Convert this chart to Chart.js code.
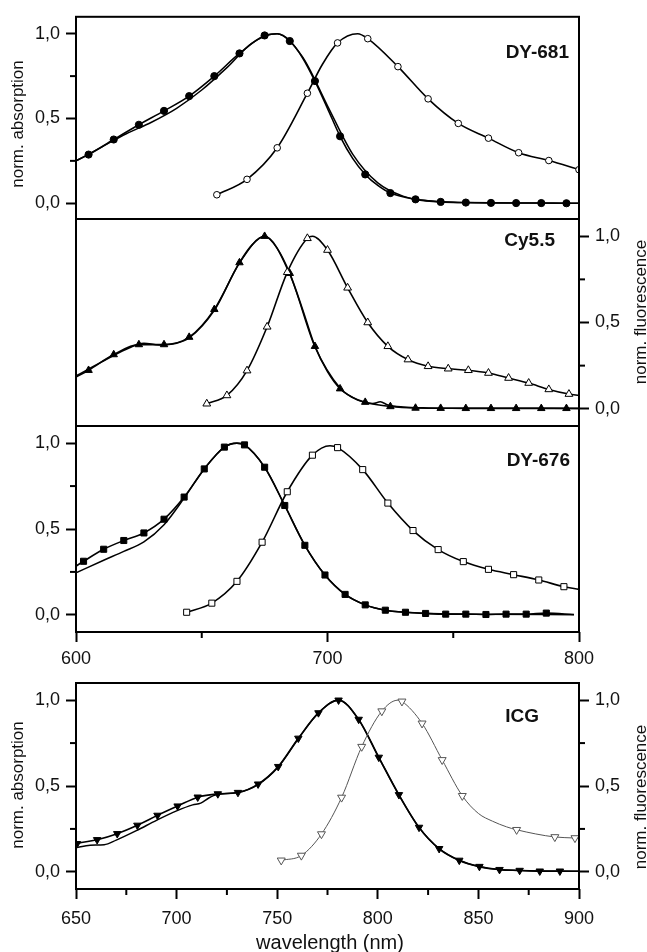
<!DOCTYPE html>
<html><head><meta charset="utf-8">
<script src="https://cdn.jsdelivr.net/npm/chart.js@4.4.0/dist/chart.umd.min.js"></script>
<style>
html,body{margin:0;padding:0;background:#fff;}
#wrap{position:relative;width:647px;height:952px;overflow:hidden;background:#fff;}
canvas{position:absolute;left:0;top:0;}
</style></head><body>
<div id="wrap">
<canvas id="c1" width="647" height="952"></canvas>
<canvas id="c2" width="647" height="952"></canvas>
<canvas id="c3" width="647" height="952"></canvas>
<canvas id="c4" width="647" height="952"></canvas>
</div>
<script>
// ---------- DATA ----------
const panelNames = ['DY-681', 'Cy5.5', 'DY-676', 'ICG'];
const yTitleAbs = 'norm. absorption';
const yTitleFlu = 'norm. fluorescence';
const xTitle = 'wavelength (nm)';
const xRangeTop = [600, 800];
const xRangeIcg = [650, 900];

// DY-681
const dy681AbsWl = [600,605,615,625,635,645,655,665,675,680,685,690,695,700,705,710,715,720,725,735,745,755,765,775,785,795,800];
const dy681AbsVal = [0.25,0.287,0.376,0.463,0.545,0.632,0.75,0.884,0.99,1.0,0.957,0.86,0.721,0.56,0.395,0.265,0.17,0.105,0.06,0.023,0.008,0.004,0.002,0.001,0.001,0,0];
const dy681AbsMarks = [605,615,625,635,645,655,665,675,685,695,705,715,725,735,745,755,765,775,785,795];
const dy681RefWl = [600,610,620,630,640,650,660,670,680,690,700,710,720,730,740,750,760,780,800];
const dy681RefVal = [0.25,0.33,0.41,0.478,0.56,0.668,0.80,0.945,1.0,0.865,0.575,0.29,0.12,0.042,0.014,0.006,0.003,0.001,0];
const dy681FluWl = [656,668,680,692,698,704,712,716,728,740,752,764,776,788,800];
const dy681FluVal = [0.05,0.141,0.327,0.649,0.82,0.946,1.0,0.971,0.806,0.616,0.471,0.384,0.298,0.252,0.198];
const dy681FluMarks = [656,668,680,692,704,716,728,740,752,764,776,788,800];

// Cy5.5
const cy55AbsWl = [600,605,615,625,635,645,655,665,670,675,680,685,690,695,700,705,710,715,725,735,745,755,765,775,785,795,800];
const cy55AbsVal = [0.184,0.223,0.314,0.372,0.372,0.415,0.576,0.847,0.95,1.0,0.93,0.785,0.58,0.362,0.215,0.116,0.066,0.038,0.013,0.004,0.003,0.002,0.002,0.002,0.002,0.002,0.002];
const cy55AbsMarks = [605,615,625,635,645,655,665,675,685,695,705,715,725,735,745,755,765,775,785,795];
const cy55RefWl = [600,610,620,627,633,640,645,655,665,675,685,695,705,712,718,721,724,730,740,760,800];
const cy55RefVal = [0.19,0.27,0.345,0.38,0.37,0.38,0.41,0.57,0.845,1.0,0.78,0.36,0.12,0.05,0.03,0.04,0.022,0.01,0.005,0.003,0.002];
const cy55FluWl = [652,660,668,676,684,692,694,700,708,716,724,732,740,748,756,764,772,780,788,796,800];
const cy55FluVal = [0.029,0.077,0.221,0.475,0.791,0.988,1.0,0.92,0.701,0.5,0.362,0.285,0.246,0.232,0.223,0.207,0.178,0.149,0.112,0.085,0.077];
const cy55FluMarks = [652,660,668,676,684,692,700,708,716,724,732,740,748,756,764,772,780,788,796];

// DY-676
const dy676AbsWl = [600,603,611,619,627,635,643,651,659,664,667,675,683,691,699,707,715,723,731,739,747,755,763,771,779,787,798];
const dy676AbsVal = [0.284,0.312,0.382,0.433,0.477,0.557,0.686,0.85,0.977,1.0,0.99,0.86,0.637,0.405,0.232,0.119,0.058,0.027,0.015,0.008,0.004,0.004,0.002,0.004,0.004,0.01,0.002];
const dy676AbsMarks = [603,611,619,627,635,643,651,659,667,675,683,691,699,707,715,723,731,739,747,755,763,771,779,787];
const dy676RefWl = [600,611,619,627,635,643,651,659,664,667,675,683,691,699,707,715,723,731,745,760,798];
const dy676RefVal = [0.245,0.318,0.37,0.425,0.525,0.68,0.85,0.977,1.0,0.99,0.86,0.637,0.405,0.232,0.119,0.058,0.027,0.015,0.006,0.003,0.001];
const dy676FluWl = [644,654,664,674,684,694,701,704,714,724,734,744,754,764,774,784,794,800];
const dy676FluVal = [0.015,0.068,0.195,0.423,0.717,0.93,0.985,0.974,0.846,0.651,0.491,0.38,0.31,0.265,0.234,0.203,0.164,0.148];
const dy676FluMarks = [644,654,664,674,684,694,704,714,724,734,744,754,764,774,784,794];

// ICG
const icgAbsWl = [650,650.5,660.5,670.5,680.5,690.5,700.5,710.5,720.5,730.5,740.5,750.5,760.5,770.5,780.5,790.5,800.5,810.5,820.5,830.5,840.5,850.5,860.5,870.5,880.5,890.5,900];
const icgAbsVal = [0.162,0.164,0.187,0.222,0.271,0.329,0.383,0.435,0.454,0.462,0.511,0.613,0.778,0.926,1.0,0.888,0.667,0.449,0.259,0.135,0.067,0.031,0.013,0.008,0.004,0.004,0.003];
const icgAbsMarks = [650.5,660.5,670.5,680.5,690.5,700.5,710.5,720.5,730.5,740.5,750.5,760.5,770.5,780.5,790.5,800.5,810.5,820.5,830.5,840.5,850.5,860.5,870.5,880.5,890.5];
const icgRefWl = [650,657,664,670,680,690,700,708,712,716,720,730.5,740.5,750.5,760.5,770.5,780.5,790.5,800.5,810.5,820.5,830.5,840.5,850.5,860.5,880,900];
const icgRefVal = [0.14,0.155,0.158,0.185,0.24,0.30,0.355,0.39,0.40,0.43,0.45,0.462,0.508,0.61,0.775,0.925,1.0,0.885,0.665,0.447,0.258,0.134,0.066,0.03,0.013,0.005,0.003];
const icgFluWl = [752,762,772,782,792,802,810,812,822,832,842,850,857,864,869,888,898,900];
const icgFluVal = [0.067,0.095,0.22,0.433,0.729,0.936,1.0,0.993,0.865,0.652,0.443,0.34,0.295,0.262,0.245,0.203,0.197,0.195];
const icgFluMarks = [752,762,772,782,792,802,812,822,832,842,869,888,898];

// ---------- HELPERS ----------
const FONT = "'Liberation Sans', Arial, Helvetica, sans-serif";
Chart.defaults.font.family = FONT;
Chart.defaults.color = '#111';

function pts(wl, val) { return wl.map((x, i) => ({ x: x, y: val[i] })); }

function markerCurve(wl, val, marks, style, opts) {
  opts = opts || {};
  return {
    data: pts(wl, val),
    yAxisID: opts.axis || 'y',
    borderColor: opts.color || '#000',
    borderWidth: opts.width || 1.6,
    cubicInterpolationMode: 'monotone',
    pointStyle: style.shape,
    pointRotation: style.rot || 0,
    pointRadius: ctx => (ctx.raw && marks.includes(ctx.raw.x)) ? style.r : 0,
    pointBackgroundColor: style.fill,
    pointBorderColor: opts.color || '#000',
    pointBorderWidth: 1
  };
}
function plainCurve(wl, val, opts) {
  opts = opts || {};
  return {
    data: pts(wl, val),
    yAxisID: opts.axis || 'y',
    borderColor: '#000',
    borderWidth: 1.5,
    cubicInterpolationMode: 'monotone',
    pointRadius: 0
  };
}

function yScale(pos, width, min, max) {
  return {
    type: 'linear', position: pos, min: min, max: max,
    afterFit: s => { s.width = width; },
    grid: { drawOnChartArea: false, drawTicks: true, tickLength: 10, tickWidth: 2, tickColor: '#000' },
    border: { display: false },
    ticks: { stepSize: 0.5, includeBounds: false, padding: 6, color: '#111',
      font: { size: 18, family: FONT },
      callback: v => Number(v).toFixed(1).replace('.', ',') }
  };
}
function xScale(range, show, step, height, pad) {
  return {
    type: 'linear', position: 'bottom', min: range[0], max: range[1], display: show,
    afterFit: s => { s.height = height; },
    grid: { drawOnChartArea: false, drawTicks: true, tickLength: 10, tickWidth: 2, tickColor: '#000' },
    border: { display: false },
    ticks: { stepSize: step, includeBounds: false, padding: pad, maxRotation: 0, autoSkip: false, color: '#111',
      font: { size: 18, family: FONT } }
  };
}

const decor = {
  id: 'decor',
  afterDraw(chart, args, o) {
    const ctx = chart.ctx, a = chart.chartArea;
    ctx.save();
    ctx.strokeStyle = '#000';
    ctx.lineWidth = 2;
    ctx.strokeRect(a.left, a.top, a.right - a.left, a.bottom - a.top);
    // minor ticks midway between major ticks
    Object.values(chart.scales).forEach(s => {
      if (!s.options.display) return;
      const t = s.ticks.map(k => k.value);
      for (let i = 0; i < t.length - 1; i++) {
        const p = s.getPixelForValue((t[i] + t[i + 1]) / 2);
        ctx.beginPath();
        if (s.isHorizontal()) { ctx.moveTo(p, a.bottom); ctx.lineTo(p, a.bottom + 6); }
        else if (s.position === 'left') { ctx.moveTo(a.left, p); ctx.lineTo(a.left - 6, p); }
        else { ctx.moveTo(a.right, p); ctx.lineTo(a.right + 6, p); }
        ctx.stroke();
      }
    });
    ctx.fillStyle = '#111';
    if (o.label) {
      ctx.font = 'bold 19px ' + FONT;
      ctx.textAlign = 'right';
      ctx.textBaseline = 'middle';
      ctx.fillText(o.label.text, a.right - o.label.dx, a.top + o.label.dy);
    }
    (o.titles || []).forEach(t => {
      ctx.save();
      ctx.font = t.size + 'px ' + FONT;
      ctx.textAlign = 'center';
      ctx.textBaseline = 'middle';
      ctx.translate(t.x, t.y);
      if (t.rot) ctx.rotate(t.rot);
      ctx.fillText(t.text, 0, 0);
      ctx.restore();
    });
    ctx.restore();
  }
};

function makeChart(id, datasets, scales, padding, decorOpts) {
  return new Chart(document.getElementById(id), {
    type: 'line',
    data: { datasets: datasets },
    options: {
      responsive: false, animation: false, events: [],
      devicePixelRatio: 1,
      layout: { padding: padding },
      plugins: { legend: { display: false }, tooltip: { enabled: false }, decor: decorOpts },
      scales: scales
    },
    plugins: [decor]
  });
}

const filledCircle = { shape: 'circle', r: 3.6, fill: '#000' };
const openCircle = { shape: 'circle', r: 3.3, fill: '#fff' };
const filledTri = { shape: 'triangle', r: 4.3, fill: '#000' };
const openTri = { shape: 'triangle', r: 4.5, fill: '#fff' };
const filledSq = { shape: 'rect', r: 4.3, fill: '#000' };
const openSq = { shape: 'rect', r: 4.3, fill: '#fff' };
const filledDown = { shape: 'triangle', r: 4.3, fill: '#000', rot: 180 };
const openDown = { shape: 'triangle', r: 4.6, fill: '#fff', rot: 180 };
const RV = -Math.PI / 2;

// Panel 1: DY-681
makeChart('c1', [
  markerCurve(dy681FluWl, dy681FluVal, dy681FluMarks, openCircle),
  markerCurve(dy681AbsWl, dy681AbsVal, dy681AbsMarks, filledCircle),
  plainCurve(dy681RefWl, dy681RefVal)
], { x: xScale(xRangeTop, false, 100, 0, 5), y: yScale('left', 76, -0.093, 1.1) },
  { top: 14, right: 68, bottom: 952 - 219, left: 0 },
  { label: { text: panelNames[0], dx: 10, dy: 36 },
    titles: [{ text: yTitleAbs, x: 18, y: 124, rot: RV, size: 17 }] });

// Panel 2: Cy5.5
makeChart('c2', [
  markerCurve(cy55FluWl, cy55FluVal, cy55FluMarks, openTri),
  markerCurve(cy55AbsWl, cy55AbsVal, cy55AbsMarks, filledTri),
  plainCurve(cy55RefWl, cy55RefVal)
], { x: xScale(xRangeTop, false, 100, 0, 5), y: yScale('right', 68, -0.1, 1.1) },
  { top: 219, right: 0, bottom: 952 - 426, left: 76 },
  { label: { text: panelNames[1], dx: 24, dy: 22 },
    titles: [{ text: yTitleFlu, x: 641, y: 312, rot: RV, size: 17 }] });

// Panel 3: DY-676
makeChart('c3', [
  markerCurve(dy676FluWl, dy676FluVal, dy676FluMarks, openSq),
  markerCurve(dy676AbsWl, dy676AbsVal, dy676AbsMarks, filledSq),
  plainCurve(dy676RefWl, dy676RefVal)
], { x: xScale(xRangeTop, true, 100, 40, 6), y: yScale('left', 76, -0.1, 1.1) },
  { top: 426, right: 68, bottom: 952 - 632 - 40, left: 0 },
  { label: { text: panelNames[2], dx: 9, dy: 35 }, titles: [] });

// Panel 4: ICG
makeChart('c4', [
  markerCurve(icgFluWl, icgFluVal, icgFluMarks, openDown, { axis: 'y2', color: '#555', width: 1 }),
  markerCurve(icgAbsWl, icgAbsVal, icgAbsMarks, filledDown),
  plainCurve(icgRefWl, icgRefVal)
], { x: xScale(xRangeIcg, true, 50, 45, 9), y: yScale('left', 76, -0.1, 1.1), y2: yScale('right', 68, -0.1, 1.1) },
  { top: 683, right: 0, bottom: 952 - 889 - 45, left: 0 },
  { label: { text: panelNames[3], dx: 40, dy: 34 },
    titles: [{ text: yTitleAbs, x: 18, y: 785, rot: RV, size: 17 },
             { text: yTitleFlu, x: 641, y: 797, rot: RV, size: 17 },
             { text: xTitle, x: 330, y: 943, rot: 0, size: 20 }] });
</script>
</body></html>
